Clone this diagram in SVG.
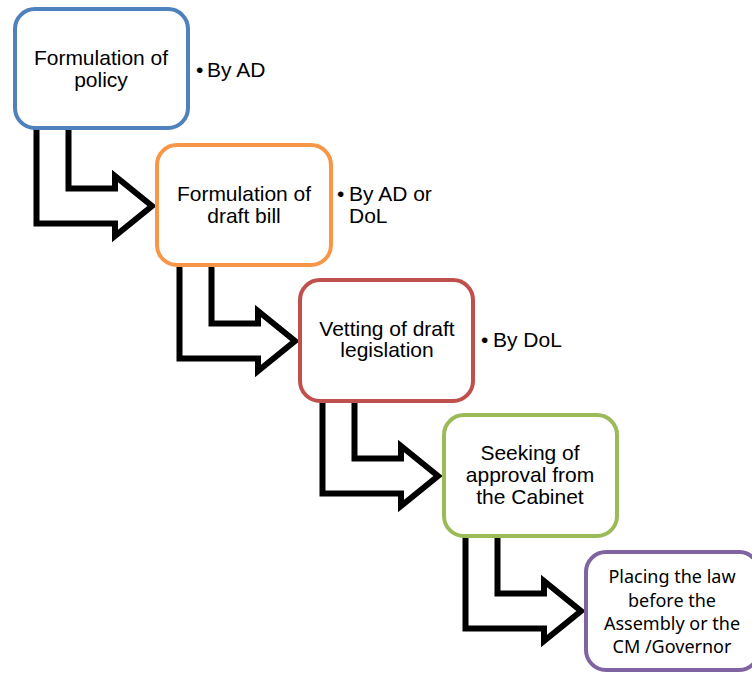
<svg xmlns="http://www.w3.org/2000/svg" width="752" height="675" viewBox="0 0 752 675">
<style>
.box{fill:#fff;stroke-width:4}
.arr{fill:#fff;stroke:#000;stroke-width:6;stroke-linejoin:miter}
.t{font-family:"Liberation Sans",Arial,sans-serif;font-size:21px;fill:#000;text-anchor:middle}
.b{font-family:"Liberation Sans",Arial,sans-serif;font-size:21px;fill:#000}
.t5{font-family:"Noto Sans",sans-serif;font-size:18px;fill:#000;text-anchor:middle}
</style>
<defs>
<path id="arrow" d="M36.5,118 V223.5 H115 V236 L152,206 L115,176 V188.5 H68.5 V118 Z"/>
</defs>
<rect width="752" height="675" fill="#fff"/>
<g id="connectors">
<use href="#arrow" class="arr"/>
<use href="#arrow" class="arr" transform="translate(143,135)"/>
<use href="#arrow" class="arr" transform="translate(286,270)"/>
<use href="#arrow" class="arr" transform="translate(429,405)"/>
</g>
<g id="node1">
<rect class="box" x="15" y="9" width="173" height="119" rx="20" stroke="#4F81BD"/>
<text class="t" x="101" y="65">Formulation of</text>
<text class="t" x="101" y="87">policy</text>
<text class="b" x="196" y="77">•</text>
<text class="b" x="207" y="77">By AD</text>
</g>
<g id="node2">
<rect class="box" x="157" y="145" width="174" height="120" rx="20" stroke="#F79646"/>
<text class="t" x="244" y="201">Formulation of</text>
<text class="t" x="244" y="223">draft bill</text>
<text class="b" x="337" y="201">•</text>
<text class="b" x="349" y="201">By AD or</text>
<text class="b" x="349" y="223">DoL</text>
</g>
<g id="node3">
<rect class="box" x="300" y="280" width="173" height="121" rx="20" stroke="#C0504D"/>
<text class="t" x="387" y="336">Vetting of draft</text>
<text class="t" x="387" y="357">legislation</text>
<text class="b" x="481" y="347">•</text>
<text class="b" x="493" y="347">By DoL</text>
</g>
<g id="node4">
<rect class="box" x="444" y="415" width="173" height="121" rx="20" stroke="#9BBB59"/>
<text class="t" x="530" y="460">Seeking of</text>
<text class="t" x="530" y="482">approval from</text>
<text class="t" x="530" y="504">the Cabinet</text>
</g>
<g id="node5">
<rect class="box" x="586" y="552" width="173" height="118" rx="20" stroke="#8064A2"/>
<text class="t5" x="672" y="583">Placing the law</text>
<text class="t5" x="672" y="607">before the</text>
<text class="t5" x="672" y="630">Assembly or the</text>
<text class="t5" x="672" y="653">CM /Governor</text>
</g>
</svg>
